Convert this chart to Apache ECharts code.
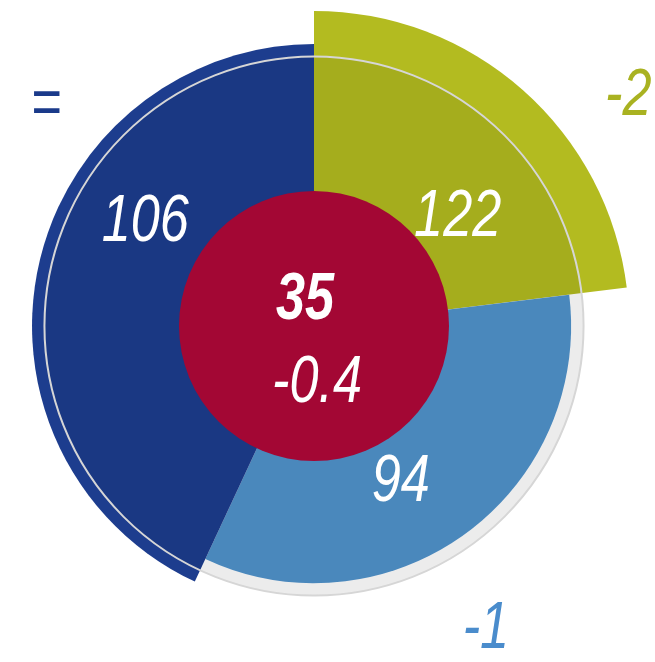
<!DOCTYPE html>
<html>
<head>
<meta charset="utf-8">
<script src="https://cdn.jsdelivr.net/npm/echarts@6/dist/echarts.min.js"></script>
<style>html,body{margin:0;padding:0;background:#fff;}#chart{width:655px;height:662px;}</style>
</head>
<body>
<div id="chart"></div>
<script>
// ---- data ----
var categories = ['green', 'lightblue', 'darkblue'];
var values = [122, 94, 106];          // index values (radius)
var changes = ['-2', '-1', '='];      // change labels
var angleShares = [83, 122, 155];     // angular span of each sector (degrees)
var referenceValue = 100;             // reference circle
var centerValue = 35;
var centerChange = '-0.4';

// ---- styling / layout ----
var colors = ['#b3bb20', '#5093cc', '#1d3d8e'];
var changeColors = ['#a9b221', '#4a8ccc', '#1a3a8a'];
var valueLabelPos = [[53, 56.7], [151, 56.3], [301.5, 65.4]];   // [angle, radius value]
var changeLabelPos = [[53.9, 157.7], [150.5, 138.4], [309.4, 137.4]];
var FONT = '"Liberation Sans", Arial, sans-serif';
var FS = 67, SX = 0.78;

var starts = [];
var acc = 0;
for (var i = 0; i < angleShares.length; i++) { starts.push(acc); acc += angleShares[i]; }
var sectorData = categories.map(function (c, i) {
  return [starts[i], starts[i] + angleShares[i], values[i], i];
});

var chart = echarts.init(document.getElementById('chart'), null, {renderer: 'canvas'});

function screenAngle(p, cs) { return Math.atan2(p[1] - cs.cy, p[0] - cs.cx); }
function radiusOf(p, cs) { return Math.sqrt((p[0] - cs.cx) * (p[0] - cs.cx) + (p[1] - cs.cy) * (p[1] - cs.cy)); }
function narrowText(txt, x, y, fill, bold) {
  return {type: 'text', x: x, y: y, scaleX: SX, scaleY: 1,
    style: {text: txt, x: 0, y: 0, fill: fill, fontSize: FS, fontStyle: 'italic',
      fontWeight: bold ? 'bold' : 'normal', fontFamily: FONT, align: 'center', verticalAlign: 'middle'}};
}

var option = {
  animation: false,
  polar: {center: [314, 326], radius: [135, 393.75]},
  angleAxis: {type: 'value', min: 0, max: 360, startAngle: 90, clockwise: true, show: false},
  radiusAxis: {type: 'value', min: 35, max: 160, show: false},
  series: [
    {
      type: 'custom', coordinateSystem: 'polar', z: 2,
      data: sectorData,
      renderItem: function (params, api) {
        var cs = params.coordSys;
        var a0 = api.value(0), a1 = api.value(1), v = api.value(2), idx = api.value(3);
        var p0 = api.coord([v, a0]);
        var p1 = api.coord([v, a1 - 0.0001]);
        var r = radiusOf(p0, cs);
        var t0 = screenAngle(p0, cs), t1 = screenAngle(p1, cs);
        while (t1 <= t0) t1 += Math.PI * 2;
        var cp = api.coord([changeLabelPos[idx][1], changeLabelPos[idx][0]]);
        return {
          type: 'group',
          children: [
            {type: 'sector', shape: {cx: cs.cx, cy: cs.cy, r0: 0, r: r, startAngle: t0, endAngle: t1, clockwise: true},
             style: {fill: colors[idx]}},
            narrowText(changes[idx], cp[0], cp[1], changeColors[idx], false)
          ]
        };
      }
    },
    {
      type: 'custom', coordinateSystem: 'polar', z: 3,
      data: [[referenceValue]],
      renderItem: function (params, api) {
        var cs = params.coordSys;
        var p = api.coord([api.value(0), 0]);
        var r = radiusOf(p, cs);
        return {type: 'circle', shape: {cx: cs.cx, cy: cs.cy, r: r},
          style: {fill: 'rgba(0,0,0,0.075)', stroke: '#d6d6d6', lineWidth: 2}};
      }
    },
    {
      type: 'custom', coordinateSystem: 'polar', z: 4,
      data: sectorData,
      renderItem: function (params, api) {
        var idx = api.value(3);
        var lp = api.coord([valueLabelPos[idx][1], valueLabelPos[idx][0]]);
        return narrowText(String(values[idx]), lp[0], lp[1], '#ffffff', false);
      }
    },
    {
      type: 'custom', coordinateSystem: 'polar', z: 5,
      data: [[centerValue]],
      renderItem: function (params, api) {
        var cs = params.coordSys;
        var p = api.coord([api.value(0), 0]);
        var r = radiusOf(p, cs);
        return {
          type: 'group',
          children: [
            {type: 'circle', shape: {cx: cs.cx, cy: cs.cy, r: r}, style: {fill: '#a30734'}},
            narrowText(String(centerValue), cs.cx - 9, cs.cy - 25, '#ffffff', true),
            narrowText(centerChange, cs.cx + 3, cs.cy + 57, '#ffffff', false)
          ]
        };
      }
    }
  ]
};
chart.setOption(option);
</script>
</body>
</html>
